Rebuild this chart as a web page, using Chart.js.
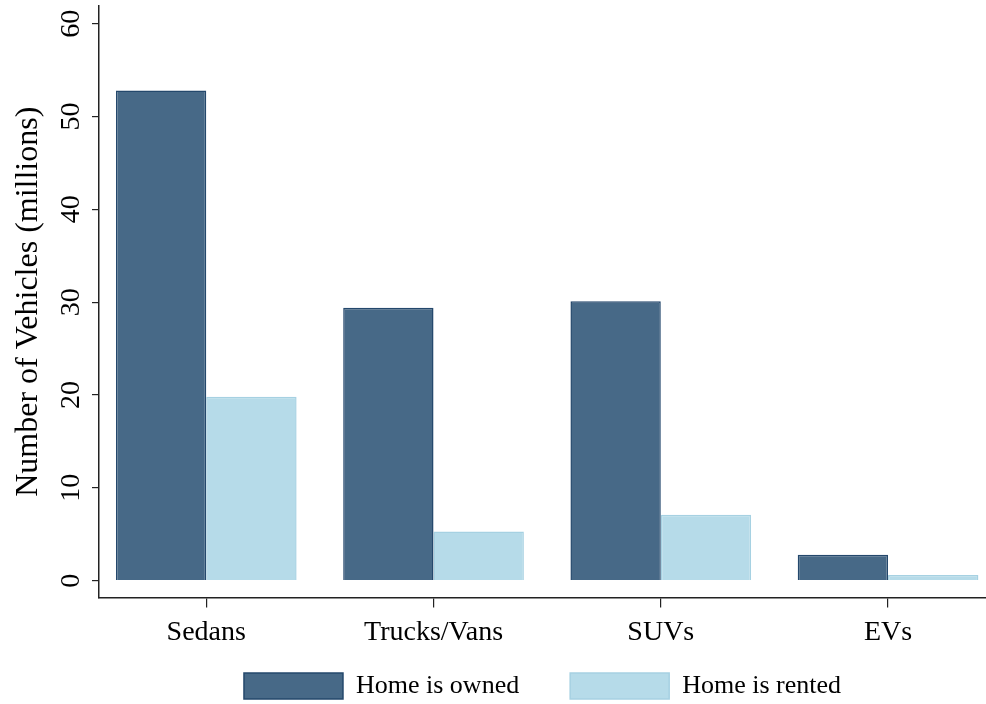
<!DOCTYPE html>
<html>
<head>
<meta charset="utf-8">
<script src="https://cdn.jsdelivr.net/npm/chart.js@4"></script>
<style>
  html, body { margin: 0; padding: 0; background: #fff; }
  #wrap { width: 986px; height: 704px; position: relative; }
</style>
</head>
<body>
<div id="wrap"><canvas id="vehicles"></canvas></div>
<script>
const categories = ['Sedans', 'Trucks/Vans', 'SUVs', 'EVs'];
const homeOwned = [52.8, 29.4, 30.1, 2.8];
const homeRented = [19.8, 5.3, 7.1, 0.6];
const yTicks = [0, 10, 20, 30, 40, 50, 60];

document.addEventListener('DOMContentLoaded', function () {
    const serif = "'Liberation Serif', 'Times New Roman', serif";
    const ctx = document.getElementById('vehicles').getContext('2d');

    // bars sit on a numeric x axis so the category spacing can match the original
    const toPoints = vals => vals.map((v, i) => ({ x: i, y: v }));

    // legend padding is also the gap between items; pull the row back up under the axis
    const legendLift = {
        id: 'legendLift',
        afterLayout: function (chart) {
            const lg = chart.legend;
            lg.top -= 35;
            lg.bottom -= 35;
        }
    };

    new Chart(ctx, {
        type: 'bar',
        data: {
            datasets: [{
                label: 'Home is owned',
                data: toPoints(homeOwned),
                backgroundColor: 'rgb(71, 105, 135)',
                borderColor: 'rgb(36, 72, 108)',
                borderWidth: 1.5
            }, {
                label: 'Home is rented',
                data: toPoints(homeRented),
                backgroundColor: 'rgb(182, 219, 233)',
                borderColor: 'rgb(166, 209, 226)',
                borderWidth: 1.5
            }]
        },
        plugins: [legendLift],
        options: {
            responsive: true,
            maintainAspectRatio: false,
            animation: false,
            categoryPercentage: 0.795,
            barPercentage: 1.0,
            layout: { padding: { top: 6, right: 0, bottom: -40, left: 0 } },
            plugins: {
                tooltip: { enabled: false },
                legend: {
                    position: 'bottom',
                    fullSize: false,
                    labels: {
                        boxWidth: 99,
                        boxHeight: 26,
                        padding: 51,
                        color: '#000',
                        font: { family: serif, size: 26 }
                    }
                }
            },
            scales: {
                x: {
                    type: 'linear',
                    min: -0.472,
                    max: 3.431,
                    offset: false,
                    afterFit: function (scale) {
                        scale.paddingLeft = 0;
                        scale.paddingRight = 0;
                    },
                    grid: { display: true, offset: false, drawOnChartArea: false, tickLength: 10, color: '#222', lineWidth: 1.2 },
                    border: { display: true, color: '#222', width: 1.5 },
                    ticks: {
                        stepSize: 1,
                        includeBounds: false,
                        autoSkip: false,
                        maxRotation: 0,
                        padding: 8,
                        color: '#000',
                        font: { family: serif, size: 28 },
                        callback: function (value) {
                            return Number.isInteger(value) && categories[value] ? categories[value] : '';
                        }
                    }
                },
                y: {
                    min: -1.8,
                    max: 61.9,
                    afterFit: function (scale) {
                        scale.width = 99;
                        scale.paddingTop = 0;
                        scale.paddingBottom = 0;
                    },
                    grid: { display: true, drawOnChartArea: false, tickLength: 7, color: '#222', lineWidth: 1.2 },
                    border: { display: true, color: '#222', width: 1.5 },
                    title: {
                        display: true,
                        text: 'Number of Vehicles (millions)',
                        color: '#000',
                        font: { family: serif, size: 32 },
                        padding: { top: 9, bottom: 4 }
                    },
                    ticks: {
                        stepSize: 10,
                        includeBounds: false,
                        minRotation: 90,
                        maxRotation: 90,
                        crossAlign: 'center',
                        padding: 6,
                        color: '#000',
                        font: { family: serif, size: 28 },
                        callback: function (value) {
                            return yTicks.includes(value) ? String(value) : '';
                        }
                    }
                }
            }
        }
    });
});
</script>
</body>
</html>
